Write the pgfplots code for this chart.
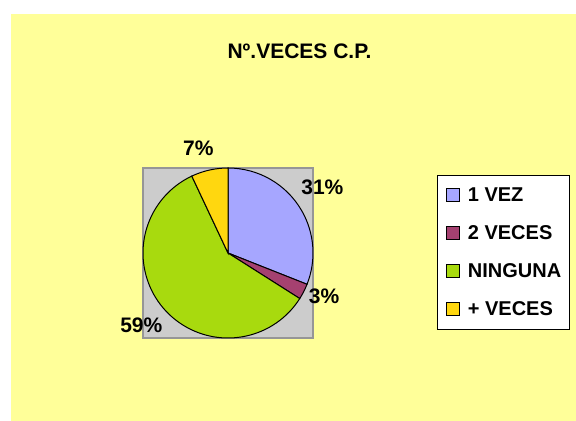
\documentclass[border=0pt]{standalone}
\usepackage{pgfplots}
\pgfplotsset{compat=1.18}
\usepackage{pgfplotstable}
\usepackage{fontspec}
\setmainfont{Liberation Sans}
\definecolor{bgyellow}{RGB}{255,255,153}
\definecolor{piegray}{RGB}{204,204,204}
\definecolor{grayborder}{RGB}{150,150,150}
\definecolor{cA}{RGB}{166,166,255}
\definecolor{cB}{RGB}{165,65,112}
\definecolor{cC}{RGB}{168,218,14}
\definecolor{cD}{RGB}{255,215,15}
\pgfplotstableread{
label value
{1 VEZ} 31
{2 VECES} 3
NINGUNA 59
{+ VECES} 7
}\piedata
\newcommand\bigfont{\fontsize{21bp}{25bp}\selectfont\bfseries}
\newcommand\legfont{\fontsize{20bp}{24bp}\selectfont\bfseries}
\begin{document}
\begin{tikzpicture}
\useasboundingbox (0,0) rectangle (576bp,421bp);
\path[fill=white] (0,0) rectangle (576bp,421bp);
\fill[bgyellow] (11bp,0) rectangle (576bp,407bp);
\node[font=\bigfont, anchor=base, inner sep=0pt] at (299.5bp,362bp) {Nº.VECES C.P.};
\pgfplotstablegetelem{0}{value}\of\piedata \edef\va{\pgfplotsretval}
\pgfplotstablegetelem{1}{value}\of\piedata \edef\vb{\pgfplotsretval}
\pgfplotstablegetelem{2}{value}\of\piedata \edef\vc{\pgfplotsretval}
\pgfplotstablegetelem{3}{value}\of\piedata \edef\vd{\pgfplotsretval}
\pgfmathsetmacro\aA{90}
\pgfmathsetmacro\aB{\aA-3.6*\va}
\pgfmathsetmacro\aC{\aB-3.6*\vb}
\pgfmathsetmacro\aD{\aC-3.6*\vc}
\pgfmathsetmacro\aE{\aD-3.6*\vd}
\begin{axis}[
  at={(143bp,83bp)}, anchor=south west, scale only axis,
  width=170bp, height=170bp,
  xmin=-1, xmax=1, ymin=-1, ymax=1,
  ticks=none, clip=false,
  axis background/.style={fill=piegray},
  axis line style={draw=grayborder, line width=1.2bp},
  legend image code/.code={\draw[#1, line width=0.9bp] (0bp,0.5bp) rectangle (13bp,13.5bp);},
  legend style={at={(axis description cs:1.7294,0.9588)}, anchor=north west,
    draw=black, line width=1bp, fill=white, font=\legfont,
    inner xsep=8.5bp, inner ysep=12.5bp, row sep=22.5bp,
    nodes={inner sep=0pt}, column sep=8bp,
    cells={anchor=base west}},
]
\fill[cA, draw=black, line width=1bp] (axis cs:0,0) -- (axis cs:{cos(\aA)},{sin(\aA)}) arc[start angle=\aA, end angle=\aB, radius=85bp] -- cycle;
\fill[cB, draw=black, line width=1bp] (axis cs:0,0) -- (axis cs:{cos(\aB)},{sin(\aB)}) arc[start angle=\aB, end angle=\aC, radius=85bp] -- cycle;
\fill[cC, draw=black, line width=1bp] (axis cs:0,0) -- (axis cs:{cos(\aC)},{sin(\aC)}) arc[start angle=\aC, end angle=\aD, radius=85bp] -- cycle;
\fill[cD, draw=black, line width=1bp] (axis cs:0,0) -- (axis cs:{cos(\aD)},{sin(\aD)}) arc[start angle=\aD, end angle=\aE, radius=85bp] -- cycle;
\node[font=\bigfont] at (axis cs:-0.35,1.23) {7\%};
\node[font=\bigfont] at (axis cs:1.11,0.77) {31\%};
\node[font=\bigfont] at (axis cs:1.13,-0.51) {3\%};
\node[font=\bigfont] at (axis cs:-1.02,-0.85) {59\%};
\addlegendimage{fill=cA, draw=black}
\addlegendentry{1 VEZ}
\addlegendimage{fill=cB, draw=black}
\addlegendentry{2 VECES}
\addlegendimage{fill=cC, draw=black}
\addlegendentry{NINGUNA}
\addlegendimage{fill=cD, draw=black}
\addlegendentry{+ VECES}
\end{axis}
\end{tikzpicture}
\end{document}
